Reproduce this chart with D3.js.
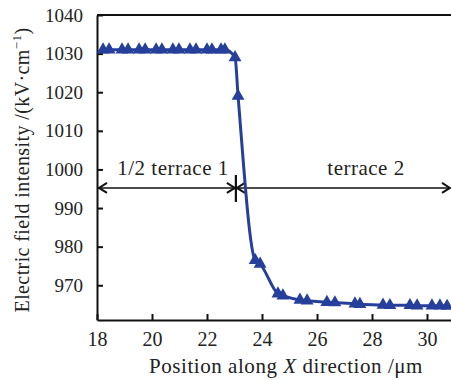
<!DOCTYPE html>
<html><head><meta charset="utf-8">
<script src="https://cdn.jsdelivr.net/npm/d3@7"></script>
<style>
html,body{margin:0;padding:0;background:#fff;}
svg{display:block;}
svg text{fill:#222;}
</style></head>
<body>
<script>
const xValues = [18.22,18.44,18.91,19.13,19.53,19.75,20.15,20.36,20.76,20.98,21.38,21.6,22.0,22.18,22.51,22.65,
  23.02,23.13,23.75,23.93,24.58,24.76,25.38,25.64,26.36,26.65,27.38,27.56,28.4,28.65,29.38,29.64,30.18,30.47,30.73];
const yValues = [1031,1031,1031,1031,1031,1031,1031,1031,1031,1031,1031,1031,1031,1031,1031,1031,
  1029,1019,976.5,975.5,967.8,967.3,966.2,966.0,965.6,965.5,965.2,965.1,964.9,964.8,964.8,964.7,964.7,964.7,964.6];
const xTicks = [18,20,22,24,26,28,30];
const yTicks = [970,980,990,1000,1010,1020,1030,1040];
const annotY = 995.2, splitX = 23.05;
const labelLeft = "1/2 terrace 1", labelRight = "terrace 2";

const W = 451, H = 380;
const FONT = '"Liberation Serif","Times New Roman",serif';
const svg = d3.select("body").append("svg").attr("width", W).attr("height", H).attr("font-family", FONT);
const x = d3.scaleLinear().domain([18, 31]).range([97, 454.5]);
const y = d3.scaleLinear().domain([961, 1040]).range([320, 15]);
const blue = "#263f9a";

// frame
svg.append("line").attr("x1",97).attr("x2",W).attr("y1",15).attr("y2",15).attr("stroke","#111").attr("stroke-width",2);

// axes
const xAxis = svg.append("g").attr("transform","translate(0,320)")
  .call(d3.axisBottom(x).tickValues(xTicks).tickFormat(d3.format("d")).tickSizeInner(-6).tickSizeOuter(0).tickPadding(12));
xAxis.attr("font-family", FONT).attr("font-size", 20);
xAxis.select(".domain").attr("stroke","#111").attr("stroke-width",2);
xAxis.selectAll(".tick line").attr("stroke","#111").attr("stroke-width",2);
xAxis.selectAll(".tick text").attr("fill","#222");

const yAxis = svg.append("g").attr("transform","translate(97,0)")
  .call(d3.axisLeft(y).tickValues(yTicks).tickFormat(d3.format("d")).tickSizeInner(-6).tickSizeOuter(0).tickPadding(14));
yAxis.attr("font-family", FONT).attr("font-size", 19);
yAxis.select(".domain").attr("stroke","#111").attr("stroke-width",2);
yAxis.selectAll(".tick line").attr("stroke","#111").attr("stroke-width",2);
yAxis.selectAll(".tick text").attr("fill","#222");

// titles
const xt = svg.append("text").attr("x",286).attr("y",373).attr("text-anchor","middle")
  .attr("font-size",21).attr("letter-spacing","0.55px");
xt.append("tspan").text("Position along ");
xt.append("tspan").attr("font-style","italic").text("X");
xt.append("tspan").text(" direction /μm");

const yt = svg.append("text").attr("transform","translate(29,170) rotate(-90)").attr("text-anchor","middle")
  .attr("font-size",20).attr("letter-spacing","0.4px");
yt.append("tspan").text("Electric field intensity /(kV·cm");
yt.append("tspan").attr("dy",-8).attr("font-size",13).text("−1");
yt.append("tspan").attr("dy",8).text(")");

// annotation arrows
const ay = y(annotY), sx = x(splitX);
const ann = svg.append("g").attr("stroke","#111").attr("stroke-width",1.6).attr("fill","none");
ann.append("line").attr("x1",97).attr("x2",W-1).attr("y1",ay).attr("y2",ay);
ann.append("line").attr("x1",sx).attr("x2",sx).attr("y1",ay-13).attr("y2",ay+14).attr("stroke-width",2.2);
function head(px, dir){
  ann.append("path").attr("d",`M${px - dir*8},${ay-5} L${px},${ay} L${px - dir*8},${ay+5}`).attr("stroke-width",2);
}
head(99,-1); head(sx-1,1); head(sx+1,-1); head(W-1,1);
svg.append("text").attr("x",173).attr("y",ay-13).attr("text-anchor","middle")
  .attr("font-size",21).attr("letter-spacing","0.5px").text(labelLeft);
svg.append("text").attr("x",366).attr("y",ay-13).attr("text-anchor","middle")
  .attr("font-size",21).attr("letter-spacing","0.5px").text(labelRight);

// series
const pts = xValues.map((d,i)=>[d,yValues[i]]);
svg.append("path").datum(pts).attr("fill","none").attr("stroke",blue).attr("stroke-width",3)
  .attr("d", d3.line().x(d=>x(d[0])).y(d=>y(d[1])).curve(d3.curveMonotoneX));
svg.append("g").selectAll("path").data(pts).join("path")
  .attr("transform",d=>`translate(${x(d[0])},${y(d[1])})`)
  .attr("d", d3.symbol(d3.symbolTriangle, 72)).attr("fill",blue);
</script>
</body></html>
